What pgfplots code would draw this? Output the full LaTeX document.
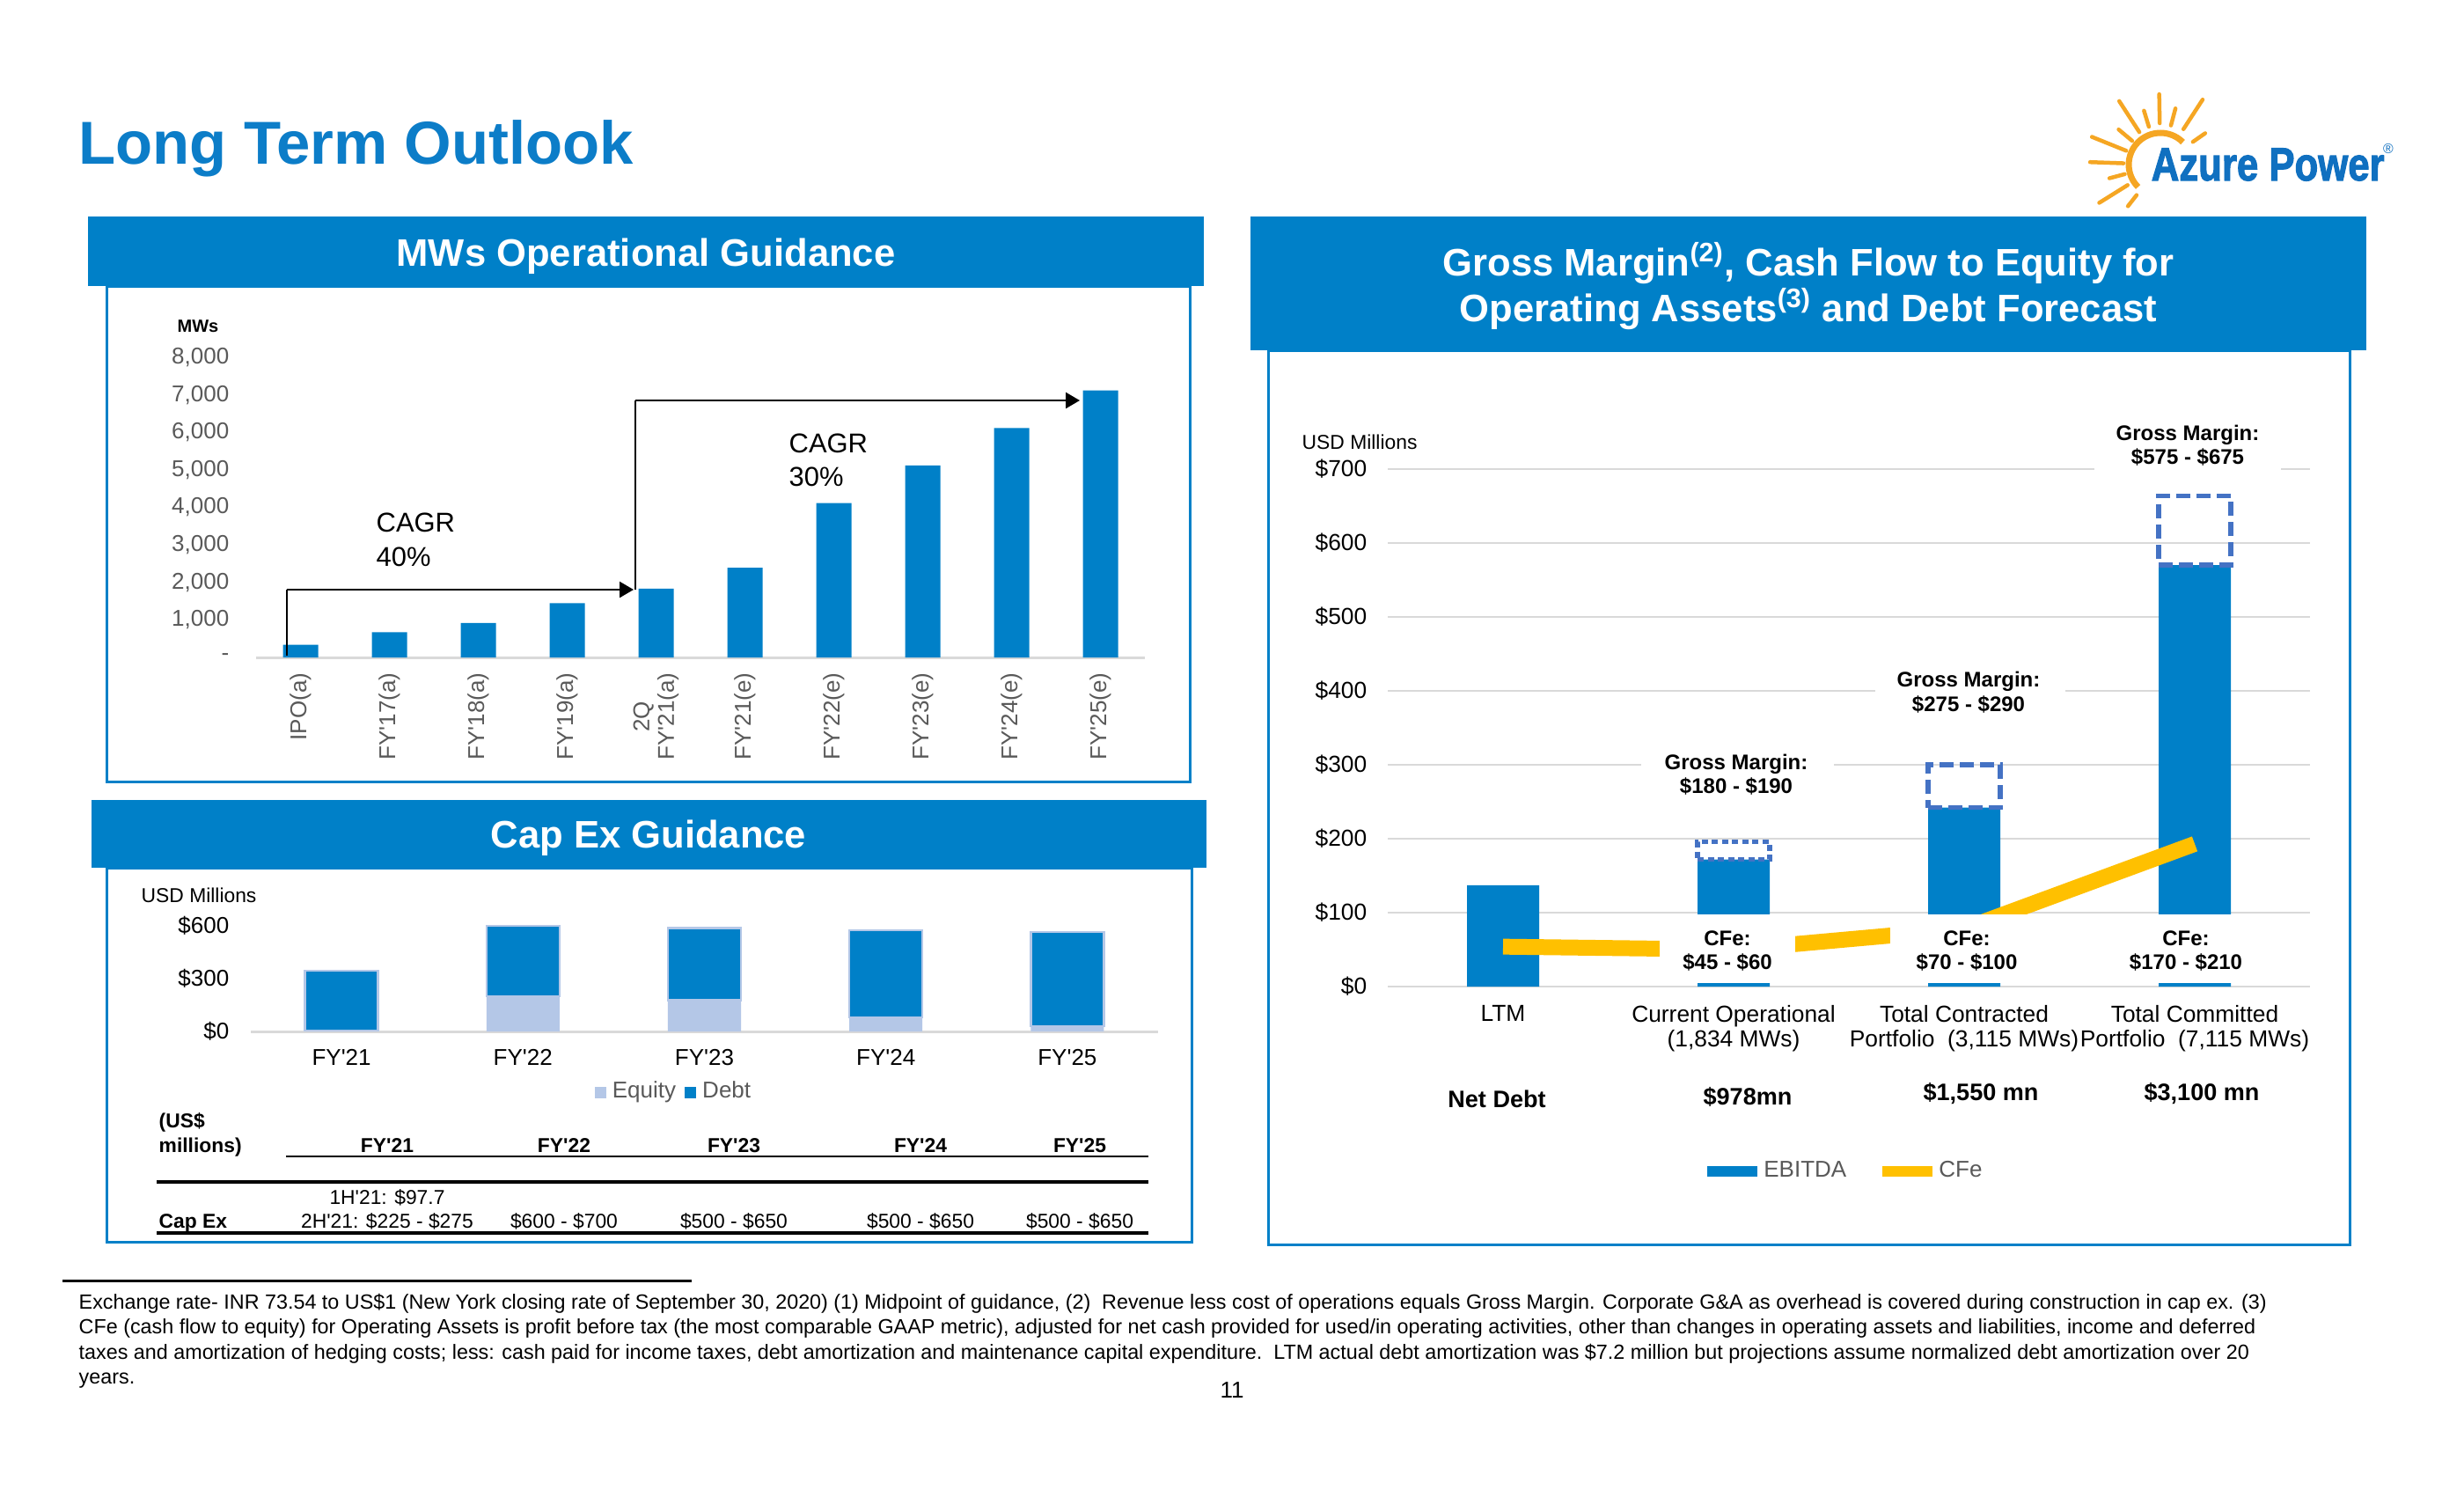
\documentclass[border=0pt]{standalone}
\usepackage{pgfplots}
\pgfplotsset{compat=1.18}
\usepackage{graphicx}
\usepackage{fontspec}
\setmainfont{Liberation Sans}
\newfontfamily\logofont[BoldFeatures={FakeBold=2.2}]{Liberation Sans}
\usetikzlibrary{arrows.meta}
\definecolor{azure}{RGB}{0,128,200}
\definecolor{titleblue}{RGB}{12,125,200}
\definecolor{logoblue}{RGB}{16,112,192}
\definecolor{equity}{RGB}{180,199,231}
\definecolor{dashblue}{RGB}{68,114,196}
\definecolor{cfe}{RGB}{255,192,0}
\definecolor{tgray}{RGB}{89,89,89}
\definecolor{gridgray}{RGB}{217,217,217}
\definecolor{sun}{RGB}{245,166,35}
\newcommand\fs[2]{\fontsize{#1}{#2}\selectfont}
\newcommand\ap{\textquotesingle}

\begin{document}
\begin{tikzpicture}
\path[use as bounding box] (0,0) rectangle (280mm,-170mm);
\fill[white] (0,0) rectangle (280mm,-170mm);

\begin{scope}[x=0.1mm,y=-0.1mm]
  % title
  \node[anchor=base west,inner sep=0,text=titleblue,font=\fs{19.6pt}{23pt}\bfseries] at (89,186) {Long Term Outlook};
  % logo
  \foreach \a/\ri/\ro in {35/45/62, 57/48/88, 75/46/66, 91/47/80, 107/45/64, 123/44/86, 140/42/62, 158/42/84, 178/42/80, 195/42/60, 212/44/82, 232/44/60}
    \draw[sun,line width=0.45mm,line cap=round] ({2455+\ri*cos(\a)},{187-\ri*sin(\a)}) -- ({2455+\ro*cos(\a)},{187-\ro*sin(\a)});
  \draw[sun,line width=0.7mm] ({2455+36*cos(45)},{187-36*sin(45)}) arc[start angle=45,end angle=225,radius=3.6mm];
  \node[anchor=base west,inner sep=0,text=logoblue,font=\fs{13.1pt}{15pt}\logofont\bfseries] at (2444,205) {\scalebox{0.95}[1.15]{Azure Power}};
  \node[inner sep=0,text=logoblue,font=\fs{4.5pt}{5pt}] at (2714,169) {\textregistered};
  % panels
  \draw[azure,line width=0.3mm] (121,325) rectangle (1352,888);
  \fill[azure] (100,246) rectangle (1368,325);
  \node[anchor=base,inner sep=0,text=white,font=\fs{12.4pt}{15pt}\bfseries] at (734,302) {MWs Operational Guidance};
  \draw[azure,line width=0.3mm] (121,986) rectangle (1354,1411);
  \fill[azure] (104,909) rectangle (1371,986);
  \node[anchor=base,inner sep=0,text=white,font=\fs{12.4pt}{15pt}\bfseries] at (737,963) {Cap Ex Guidance};
  \draw[azure,line width=0.3mm] (1441,398) rectangle (2670,1414);
  \fill[azure] (1421,246) rectangle (2689,398);
  \node[anchor=base,inner sep=0,text=white,font=\fs{12.4pt}{15pt}\bfseries] at (2055,313) {Gross Margin\textsuperscript{(2)}, Cash Flow to Equity for};
  \node[anchor=base,inner sep=0,text=white,font=\fs{12.4pt}{15pt}\bfseries] at (2055,365) {Operating Assets\textsuperscript{(3)} and Debt Forecast};
\end{scope}

% ---------- MWs operational guidance
\begin{axis}[
  at={(29.1mm,-74.7mm)}, anchor=south west, scale only axis,
  width=101.0mm, height=34.1mm,
  xmin=-0.5, xmax=9.5, ymin=0, ymax=8000,
  axis x line*=bottom, axis y line*=left,
  x axis line style={draw=gridgray, line width=0.3mm, -},
  y axis line style={draw=none},
  major tick length=0pt,
  xtick={0,...,9},
  xticklabels={IPO(a),FY\ap17(a),FY\ap18(a),FY\ap19(a),{2Q\\FY\ap21(a)},FY\ap21(e),FY\ap22(e),FY\ap23(e),FY\ap24(e),FY\ap25(e)},
  xticklabel style={rotate=90, anchor=east, align=center, inner sep=0pt, font=\fs{7.4pt}{8pt}, text=tgray},
  xticklabel shift=1.7mm,
  ytick={0,1000,...,8000},
  yticklabels={{-\hspace{1.6mm}},{1,000},{2,000},{3,000},{4,000},{5,000},{6,000},{7,000},{8,000}},
  yticklabel style={anchor=east, inner sep=0pt, font=\fs{7.4pt}{8pt}, text=tgray},
  yticklabel shift=3mm,
  clip=false,
]
\addplot[ybar, bar width=4mm, bar shift=0pt, fill=azure, draw=none] coordinates {(0,340) (1,670) (2,920) (3,1444) (4,1834) (5,2390) (6,4115) (7,5115) (8,6115) (9,7115)};
\end{axis}

% ---------- Cap Ex guidance
\begin{axis}[
  at={(28.5mm,-117.2mm)}, anchor=south west, scale only axis,
  width=103.1mm, height=12mm,
  xmin=-0.5, xmax=4.5, ymin=0, ymax=600,
  axis x line*=bottom, axis y line*=left,
  x axis line style={draw=gridgray, line width=0.3mm, -},
  y axis line style={draw=none},
  major tick length=0pt,
  xtick={0,...,4},
  xticklabels={FY\ap21,FY\ap22,FY\ap23,FY\ap24,FY\ap25},
  xticklabel style={anchor=north, inner sep=0pt, font=\fs{7.4pt}{8pt}},
  xticklabel shift=1.95mm,
  ytick={0,300,600}, yticklabels={\$0,\$300,\$600},
  yticklabel style={anchor=east, inner sep=0pt, font=\fs{7.4pt}{8pt}},
  yticklabel shift=2.4mm,
  ybar stacked, bar width=8.3mm,
  clip=false,
  legend style={at={(0.4685,-0.575)}, anchor=center, legend columns=-1, draw=none, fill=none, font=\fs{7.4pt}{8pt}, text=tgray, inner sep=0pt, /tikz/every even column/.append style={column sep=0.3mm}},
]
\addplot[fill=equity, draw=none, legend image code/.code={\path[fill=equity,draw=none] (0,-0.65mm) rectangle (1.3mm,0.65mm);}] coordinates {(0,5) (1,200) (2,178) (3,79) (4,30)};
\addlegendentry{Equity}
\addplot[fill=azure, draw=equity, line width=0.25mm, legend image code/.code={\path[fill=azure,draw=none] (0,-0.65mm) rectangle (1.3mm,0.65mm);}] coordinates {(0,340) (1,400) (2,410) (3,496) (4,535)};
\addlegendentry{Debt}
\end{axis}

% ---------- Gross margin / CFe chart
\begin{axis}[
  at={(157.7mm,-112.1mm)}, anchor=south west, scale only axis,
  width=104.8mm, height=58.8mm,
  xmin=-0.5, xmax=3.5, ymin=0, ymax=700,
  axis line style={draw=none},
  major tick length=0pt,
  ymajorgrids, major grid style={draw=gridgray, line width=0.25mm},
  xtick={0,...,3},
  xticklabels={LTM,{Current Operational\\(1,834 MWs)},{Total Contracted\\Portfolio\ \ (3,115 MWs)},{Total Committed\\Portfolio\ \ (7,115 MWs)}},
  xticklabel style={anchor=north, align=center, inner sep=0pt, font=\fs{7.5pt}{8pt}},
  xticklabel shift=2.1mm,
  ytick={0,100,...,700},
  yticklabels={\$0,\$100,\$200,\$300,\$400,\$500,\$600,\$700},
  yticklabel style={anchor=east, inner sep=0pt, font=\fs{7.5pt}{8pt}},
  yticklabel shift=2.3mm,
  clip=false,
  legend style={at={(0.499,-0.357)}, anchor=center, legend columns=-1, draw=none, fill=none, font=\fs{7.4pt}{8pt}, text=tgray, /tikz/every even column/.append style={column sep=3.4mm}},
]
\addplot[ybar, bar width=8.2mm, bar shift=0pt, fill=azure, draw=none, legend image code/.code={\path[fill=azure,draw=none] (0,-0.6mm) rectangle (5.7mm,0.6mm);}] coordinates {(0,137) (1,172) (2,242) (3,570)};
\addlegendentry{EBITDA}
\addplot[draw=cfe, line width=1.8mm, mark=none, legend image code/.code={\path[fill=cfe,draw=none] (0,-0.6mm) rectangle (5.7mm,0.6mm);}] coordinates {(0,54) (1,50) (2,78) (3,193)};
\addlegendentry{CFe}
\end{axis}
% dashed gross-margin ranges (current operational: dotted)
\begin{axis}[
  at={(157.7mm,-112.1mm)}, anchor=south west, scale only axis,
  width=104.8mm, height=58.8mm,
  xmin=-0.5, xmax=3.5, ymin=0, ymax=700,
  hide axis, ybar stacked, bar width=8.2mm, clip=false,
]
\addplot[draw=none, fill=none] coordinates {(1,172)};
\addplot[fill=none, draw=dashblue, line width=0.55mm, dash pattern=on 0.7mm off 0.45mm] coordinates {(1,24)};
\end{axis}
\begin{axis}[
  at={(157.7mm,-112.1mm)}, anchor=south west, scale only axis,
  width=104.8mm, height=58.8mm,
  xmin=-0.5, xmax=3.5, ymin=0, ymax=700,
  hide axis, ybar stacked, bar width=8.2mm, clip=false,
]
\addplot[draw=none, fill=none] coordinates {(2,242) (3,570)};
\addplot[fill=none, draw=dashblue, line width=0.55mm, dash pattern=on 1.6mm off 0.7mm] coordinates {(2,58) (3,94)};
\end{axis}

\begin{scope}[x=0.1mm,y=-0.1mm]
  % arrows and CAGR
  \draw[line width=0.15mm] (326,745) -- (326,670);
  \draw[line width=0.25mm,-{Triangle[length=1.6mm,width=1.8mm]}] (326,670) -- (720,670);
  \draw[line width=0.15mm] (722,670) -- (722,455);
  \draw[line width=0.25mm,-{Triangle[length=1.6mm,width=1.8mm]}] (722,455) -- (1227,455);
  \node[anchor=base west,inner sep=0,font=\fs{8.8pt}{10pt}] at (427,604) {CAGR};
  \node[anchor=base west,inner sep=0,font=\fs{8.8pt}{10pt}] at (427,643) {40\%};
  \node[anchor=base west,inner sep=0,font=\fs{8.8pt}{10pt}] at (896,514) {CAGR};
  \node[anchor=base west,inner sep=0,font=\fs{8.8pt}{10pt}] at (896,552) {30\%};
  \node[anchor=base,inner sep=0,font=\fs{5.7pt}{7pt}\bfseries] at (225,377) {MWs};
  % cap ex texts
  \node[anchor=base west,inner sep=0,font=\fs{6.5pt}{8pt}] at (160,1025) {USD Millions};
  \node[anchor=base west,inner sep=0,font=\fs{6.5pt}{8pt}\bfseries] at (180,1281) {(US\$};
  \node[anchor=base west,inner sep=0,font=\fs{6.5pt}{8pt}\bfseries] at (180,1309) {millions)};
  \foreach \x/\t in {440/FY\ap21, 641/FY\ap22, 834/FY\ap23, 1046/FY\ap24, 1227/FY\ap25}
    \node[anchor=base,inner sep=0,font=\fs{6.5pt}{8pt}\bfseries] at (\x,1309) {\t};
  \draw[line width=0.2mm] (325,1314) -- (1305,1314);
  \draw[line width=0.35mm] (178,1343) -- (1305,1343);
  \node[anchor=base,inner sep=0,font=\fs{6.5pt}{8pt}] at (440,1368) {1H\ap21: \$97.7};
  \node[anchor=base,inner sep=0,font=\fs{6.5pt}{8pt}] at (440,1395) {2H\ap21: \$225 - \$275};
  \foreach \x/\t in {641/{\$600 - \$700}, 834/{\$500 - \$650}, 1046/{\$500 - \$650}, 1227/{\$500 - \$650}}
    \node[anchor=base,inner sep=0,font=\fs{6.5pt}{8pt}] at (\x,1395) {\t};
  \node[anchor=base west,inner sep=0,font=\fs{6.5pt}{8pt}\bfseries] at (180,1395) {Cap Ex};
  \draw[line width=0.35mm] (178,1401) -- (1305,1401);
  % right chart texts
  \node[anchor=base west,inner sep=0,font=\fs{6.5pt}{8pt}] at (1479,510) {USD Millions};
  \fill[white] (1865,845) rectangle (2084,915);
  \node[anchor=base,inner sep=0,font=\fs{6.83pt}{8pt}\bfseries] at (1973,874) {Gross Margin:};
  \node[anchor=base,inner sep=0,font=\fs{6.83pt}{8pt}\bfseries] at (1973,901) {\$180 - \$190};
  \fill[white] (2131,750) rectangle (2347,822);
  \node[anchor=base,inner sep=0,font=\fs{6.83pt}{8pt}\bfseries] at (2237,780) {Gross Margin:};
  \node[anchor=base,inner sep=0,font=\fs{6.83pt}{8pt}\bfseries] at (2237,808) {\$275 - \$290};
  \fill[white] (2380,470) rectangle (2592,541);
  \node[anchor=base,inner sep=0,font=\fs{6.83pt}{8pt}\bfseries] at (2486,500) {Gross Margin:};
  \node[anchor=base,inner sep=0,font=\fs{6.83pt}{8pt}\bfseries] at (2486,527) {\$575 - \$675};
  \fill[white] (1886,1039) rectangle (2040,1117);
  \node[anchor=base,inner sep=0,font=\fs{6.83pt}{8pt}\bfseries] at (1963,1074) {CFe:};
  \node[anchor=base,inner sep=0,font=\fs{6.83pt}{8pt}\bfseries] at (1963,1101) {\$45 - \$60};
  \fill[white] (2148,1039) rectangle (2322,1117);
  \node[anchor=base,inner sep=0,font=\fs{6.83pt}{8pt}\bfseries] at (2235,1074) {CFe:};
  \node[anchor=base,inner sep=0,font=\fs{6.83pt}{8pt}\bfseries] at (2235,1101) {\$70 - \$100};
  \fill[white] (2399,1039) rectangle (2569,1117);
  \node[anchor=base,inner sep=0,font=\fs{6.83pt}{8pt}\bfseries] at (2484,1074) {CFe:};
  \node[anchor=base,inner sep=0,font=\fs{6.83pt}{8pt}\bfseries] at (2484,1101) {\$170 - \$210};
  \node[anchor=base,inner sep=0,font=\fs{7.7pt}{9pt}\bfseries] at (1701,1258) {Net Debt};
  \node[anchor=base,inner sep=0,font=\fs{7.7pt}{9pt}\bfseries] at (1986,1255) {\$978mn};
  \node[anchor=base,inner sep=0,font=\fs{7.7pt}{9pt}\bfseries] at (2251,1250) {\$1,550 mn};
  \node[anchor=base,inner sep=0,font=\fs{7.7pt}{9pt}\bfseries] at (2502,1250) {\$3,100 mn};
  % footnote
  \draw[line width=0.3mm] (71,1455) -- (786,1455);
  \node[anchor=base west,inner sep=0,font=\fs{6.64pt}{8pt}] at (89,1487) {Exchange rate- INR 73.54 to US\$1 (New York closing rate of September 30, 2020) (1) Midpoint of guidance, (2)\ \ Revenue less cost of operations equals Gross Margin. Corporate G\&A as overhead is covered during construction in cap ex. (3)};
  \node[anchor=base west,inner sep=0,font=\fs{6.64pt}{8pt}] at (89,1515.5) {CFe (cash flow to equity) for Operating Assets is profit before tax (the most comparable GAAP metric), adjusted for net cash provided for used/in operating activities, other than changes in operating assets and liabilities, income and deferred};
  \node[anchor=base west,inner sep=0,font=\fs{6.64pt}{8pt}] at (89,1544) {taxes and amortization of hedging costs; less: cash paid for income taxes, debt amortization and maintenance capital expenditure.\ \ LTM actual debt amortization was \$7.2 million but projections assume normalized debt amortization over 20};
  \node[anchor=base west,inner sep=0,font=\fs{6.64pt}{8pt}] at (89,1572.5) {years.};
  \node[anchor=base,inner sep=0,font=\fs{7.4pt}{8pt}] at (1400,1588) {11};
\end{scope}
\end{tikzpicture}
\end{document}
